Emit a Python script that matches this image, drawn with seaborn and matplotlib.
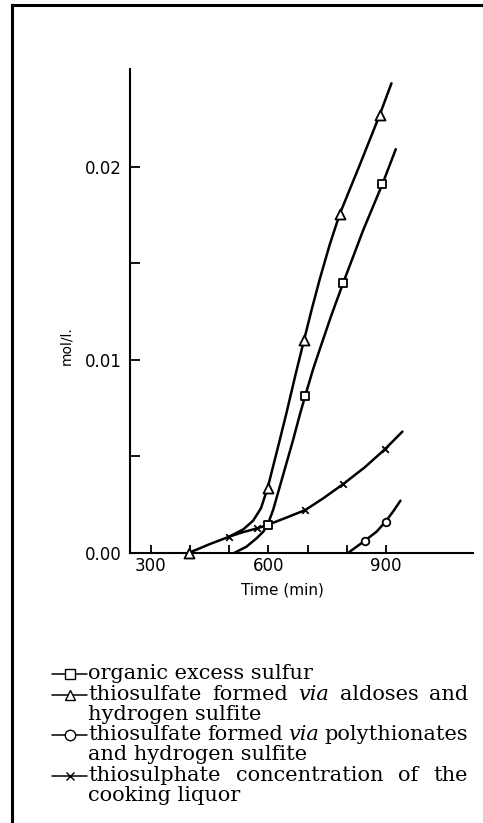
import matplotlib
matplotlib.use("Agg")
import matplotlib.pyplot as plt
import seaborn as sns
from matplotlib.lines import Line2D
from matplotlib.ticker import MultipleLocator, FixedLocator, FormatStrFormatter

# --- values (time in min, concentration in mol/l) ---
# traced curves
tri_curve_t = [398, 451, 500, 536, 561, 581, 598, 614, 629, 646, 668, 691, 711, 731, 756, 782,
               833, 884, 914]
tri_curve_c = [0.0, 0.00045, 0.00083, 0.00121, 0.00166, 0.0023, 0.00335, 0.00463, 0.00584,
               0.00723, 0.00913, 0.01103, 0.01265, 0.01418, 0.01594, 0.01756, 0.0201, 0.0227,
               0.02434]

sq_curve_t = [514, 544, 570, 587, 598, 612, 629, 646, 663, 680, 694, 714, 731, 760, 791, 842,
              891, 925]
sq_curve_c = [0.0, 0.00031, 0.00075, 0.00109, 0.00144, 0.00221, 0.00342, 0.00463, 0.00584,
              0.00714, 0.00814, 0.00951, 0.01054, 0.01227, 0.01400, 0.01673, 0.01912, 0.02092]

cross_curve_t = [500, 536, 571, 598, 646, 694, 740, 791, 846, 897, 942]
cross_curve_c = [0.00083, 0.00107, 0.00126, 0.00144, 0.00182, 0.00221, 0.00282, 0.00356,
                 0.00443, 0.00536, 0.00628]

circ_curve_t = [804, 825, 846, 876, 899, 918, 937]
circ_curve_c = [0.0, 0.00031, 0.00062, 0.00109, 0.00161, 0.00213, 0.0027]

# measured points
tri_t = [398, 598, 691, 782, 884]
tri_c = [0.0, 0.00335, 0.01103, 0.01756, 0.0227]
sq_t = [598, 694, 791, 891]
sq_c = [0.00144, 0.00814, 0.01400, 0.01912]
cross_t = [500, 571, 694, 791, 897]
cross_c = [0.00083, 0.00126, 0.00221, 0.00356, 0.00536]
circ_t = [846, 899]
circ_c = [0.00062, 0.00161]

x_minor_ticks = [300, 400, 500, 600, 700, 800, 900]
y_minor_ticks = [0.005, 0.015]

legend_markers = ["s", "^", "o", "x"]
legend_rows = [
    ("organic excess sulfur", False, 0),
    ("thiosulfate formed via aldoses and", True, 1),
    ("hydrogen sulfite", False, None),
    ("thiosulfate formed via polythionates", True, 2),
    ("and hydrogen sulfite", False, None),
    ("thiosulphate concentration of the", True, 3),
    ("cooking liquor", False, None),
]

sns.set_style("ticks")
plt.rcParams["font.family"] = ["DejaVu Sans"]
plt.rcParams.update({"text.color": "black", "axes.labelcolor": "black",
                     "xtick.color": "black", "ytick.color": "black",
                     "axes.edgecolor": "black"})

W, H = 483, 823
fig = plt.figure(figsize=(W / 100, H / 100), dpi=100)
ax = fig.add_axes([130 / W, 1 - 552.7 / H, 343 / W, (552.7 - 69) / H])

for t, c in [(tri_curve_t, tri_curve_c), (sq_curve_t, sq_curve_c),
             (cross_curve_t, cross_curve_c), (circ_curve_t, circ_curve_c)]:
    sns.lineplot(x=t, y=c, sort=False, estimator=None, color="black", linewidth=1.8,
                 ax=ax, solid_joinstyle="round")

sns.scatterplot(x=tri_t, y=tri_c, marker="^", s=52, color="white", edgecolor="black",
                linewidth=1.3, zorder=3, clip_on=False, ax=ax)
sns.scatterplot(x=sq_t, y=sq_c, marker="s", s=28, color="white", edgecolor="black",
                linewidth=1.3, zorder=3, clip_on=False, ax=ax)
sns.scatterplot(x=circ_t, y=circ_c, marker="o", s=30, color="white", edgecolor="black",
                linewidth=1.3, zorder=3, clip_on=False, ax=ax)
sns.scatterplot(x=cross_t, y=cross_c, marker="x", s=22, color="black",
                linewidth=1.3, zorder=3, clip_on=False, ax=ax)

ax.set_xlim(247, 1122)
ax.set_ylim(0, 0.02508)
ax.xaxis.set_major_locator(MultipleLocator(300))
ax.xaxis.set_minor_locator(FixedLocator(x_minor_ticks))
ax.yaxis.set_major_locator(MultipleLocator(0.01))
ax.yaxis.set_minor_locator(FixedLocator(y_minor_ticks))
ax.yaxis.set_major_formatter(FormatStrFormatter("%.2f"))

for s in ["top", "right"]:
    ax.spines[s].set_visible(False)
for s in ["left", "bottom"]:
    ax.spines[s].set_linewidth(1.5)

ax.tick_params(axis="x", which="both", direction="in", length=5.5, width=1.3,
               labelsize=12, pad=3)
ax.tick_params(axis="y", which="both", direction="in", length=7, width=1.3,
               labelsize=12, pad=6)

ax.set_xlabel("Time (min)", fontsize=11)
ax.xaxis.set_label_coords(0.443, -0.062)
ax.set_ylabel("mol/l.", fontsize=10)
ax.yaxis.set_label_coords(-0.166, 0.428)

# frame lines of the scanned page
fig.add_artist(Line2D([12 / W, 12 / W], [0, 1 - 5 / H], transform=fig.transFigure,
                      color="black", linewidth=2.2, solid_capstyle="projecting"))
fig.add_artist(Line2D([12 / W, 1], [1 - 5 / H, 1 - 5 / H], transform=fig.transFigure,
                      color="black", linewidth=2.2, solid_capstyle="projecting"))

# legend below the plot
renderer = fig.canvas.get_renderer()
x0, x1 = 88, 468
baselines = [679, 699.5, 720, 740, 760.5, 781, 801]
for (text, justify, key), base in zip(legend_rows, baselines):
    yb = 1 - base / H
    if key is not None:
        yk = 1 - (base - 5) / H
        fig.add_artist(Line2D([52 / W, 87 / W], [yk, yk], transform=fig.transFigure,
                              color="black", linewidth=1.1))
        m = legend_markers[key]
        fig.add_artist(Line2D([70 / W], [yk], transform=fig.transFigure, marker=m,
                              markersize=7.5 if m != "x" else 6,
                              markerfacecolor="white", markeredgecolor="black",
                              markeredgewidth=1.0, linestyle="none"))
    if not justify:
        fig.text(x0 / W, yb, text, family="DejaVu Serif", fontsize=15, va="baseline")
        continue
    words = text.split()
    arts = [fig.text(0, yb, w, family="DejaVu Serif", fontsize=15, va="baseline",
                     style="italic" if w == "via" else "normal") for w in words]
    widths = [a.get_window_extent(renderer).width for a in arts]
    gap = (x1 - x0 - sum(widths)) / (len(words) - 1)
    x = x0
    for a, wd in zip(arts, widths):
        a.set_x(x / W)
        x += wd + gap

fig.savefig("out.png", dpi=100)
